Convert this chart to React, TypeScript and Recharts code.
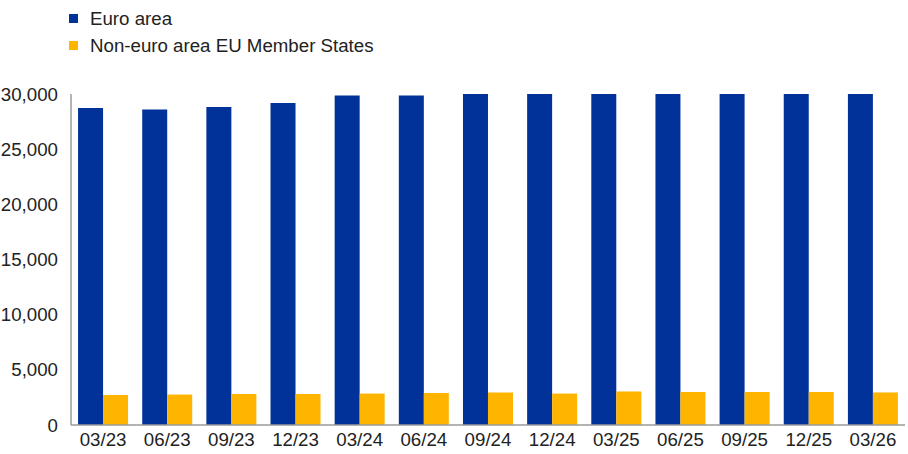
import { BarChart, Bar, XAxis, YAxis } from 'recharts';

const quarters = ['03/23', '06/23', '09/23', '12/23', '03/24', '06/24', '09/24', '12/24', '03/25', '06/25', '09/25', '12/25', '03/26'];
const euroArea = [28730, 28600, 28820, 29180, 29860, 29870, 30300, 30400, 30600, 30700, 30800, 30900, 31000];
const nonEuroArea = [2720, 2760, 2810, 2810, 2850, 2900, 2950, 2850, 3040, 2990, 2990, 2990, 2950];
const yTicks = [0, 5000, 10000, 15000, 20000, 25000, 30000];

const seriesNames = ['Euro area', 'Non-euro area EU Member States'];
const seriesColors = ['#003299', '#FFB400'];

const data = quarters.map((q, i) => ({ quarter: q, euro: euroArea[i], nonEuro: nonEuroArea[i] }));

const FONT = '"Liberation Sans", Arial, sans-serif';
const FS = 18.7;

export default function App() {
  return (
    <div style={{ position: 'absolute', left: 0, top: 0, width: 908, height: 454, background: '#fff' }}>
      {/* legend sits above the plot, outside the chart layout */}
      <div style={{ position: 'absolute', left: 69, top: 5, fontFamily: FONT, fontSize: FS, color: '#222' }}>
        {seriesNames.map((name, i) => (
          <div key={name} style={{ display: 'flex', alignItems: 'center', height: 27 }}>
            <span style={{ display: 'inline-block', width: 9, height: 9, background: seriesColors[i], marginRight: 12 }} />
            <span>{name}</span>
          </div>
        ))}
      </div>
      <BarChart
        width={908}
        height={454}
        data={data}
        margin={{ top: 94, right: 3, bottom: 0, left: 0 }}
        barCategoryGap="11%"
        barGap={0}
      >
        <XAxis
          dataKey="quarter"
          height={29}
          axisLine={{ stroke: '#9a9a9a', strokeWidth: 1.5 }}
          tickLine={false}
          tick={{ fill: '#222', fontSize: FS, fontFamily: FONT }}
          tickMargin={2}
          interval={0}
        />
        <YAxis
          width={71}
          domain={[0, 30000]}
          ticks={yTicks}
          allowDataOverflow
          axisLine={{ stroke: '#9a9a9a', strokeWidth: 1.5 }}
          tickLine={false}
          tick={{ fill: '#222', fontSize: FS, fontFamily: FONT }}
          tickMargin={7}
          tickFormatter={(v: number) => v.toLocaleString('en-US')}
        />
        <Bar dataKey="euro" name={seriesNames[0]} fill={seriesColors[0]} isAnimationActive={false} />
        <Bar dataKey="nonEuro" name={seriesNames[1]} fill={seriesColors[1]} isAnimationActive={false} />
      </BarChart>
    </div>
  );
}
